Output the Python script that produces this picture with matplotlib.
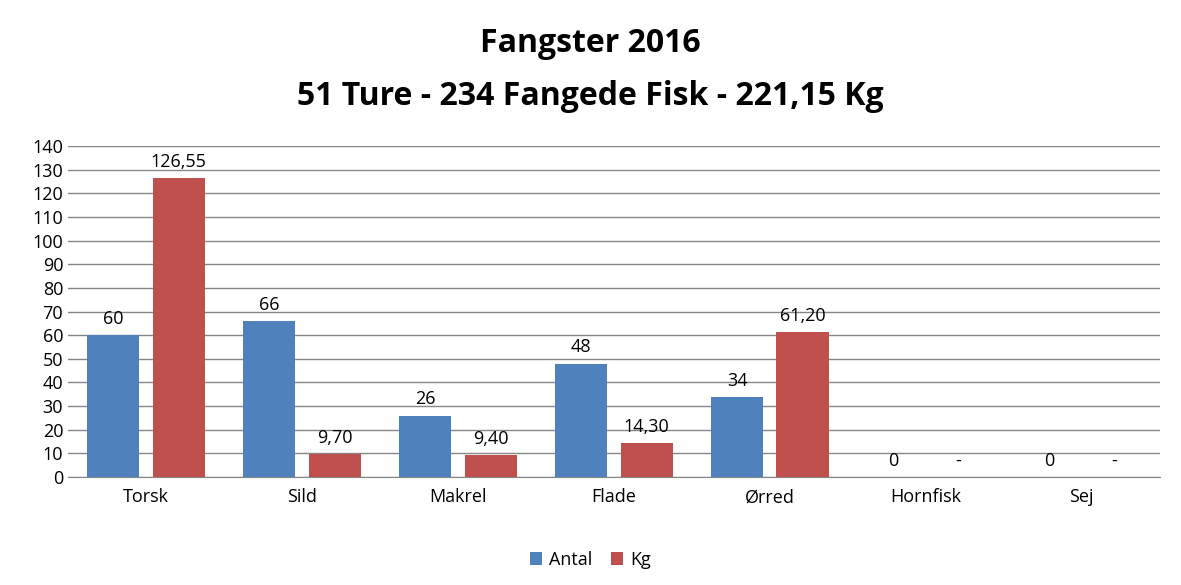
import matplotlib
matplotlib.use("Agg")
import matplotlib.pyplot as plt
import numpy as np

categories = ["Torsk", "Sild", "Makrel", "Flade", "Ørred", "Hornfisk", "Sej"]
antal = [60, 66, 26, 48, 34, 0, 0]
kg = [126.55, 9.70, 9.40, 14.30, 61.20, 0, 0]
yticks = list(range(0, 141, 10))

plt.rcParams['font.family'] = ['Open Sans', 'DejaVu Sans']
fig = plt.figure(figsize=(11.81, 5.85), dpi=100)
ax = fig.add_axes([0.0576, 0.1846, 0.9244, 0.5658])
x = np.arange(len(categories))
w = 0.335
off = 0.21
blue, red = "#4F81BD", "#C0504D"
ax.bar(x - off, antal, w, color=blue, label="Antal", zorder=3)
ax.bar(x + off, kg, w, color=red, label="Kg", zorder=3)
for xi, v in zip(x, antal):
    ax.text(xi - off, v + 3, f"{v}", ha="center", va="bottom", fontsize=13)
for xi, v in zip(x, kg):
    s = f"{v:.2f}".replace(".", ",") if v else "-"
    ax.text(xi + off, v + 3, s, ha="center", va="bottom", fontsize=13)
ax.set_xlim(-0.5, len(categories) - 0.5)
ax.set_ylim(0, 140)
ax.set_yticks(yticks)
ax.set_xticks(x)
ax.set_xticklabels(categories, fontsize=13)
ax.tick_params(axis="y", labelsize=13, length=0)
ax.tick_params(axis="x", length=0, pad=8)
ax.grid(axis="y", color="#868686", linewidth=1, zorder=0)
for s in ["top", "right", "left"]:
    ax.spines[s].set_visible(False)
ax.spines["bottom"].set_color("#868686")
fig.text(0.5, 0.925, "Fangster 2016", ha="center", va="center", fontsize=23, fontweight="bold")
fig.text(0.5, 0.835, "51 Ture - 234 Fangede Fisk - 221,15 Kg", ha="center", va="center", fontsize=23, fontweight="bold")
fig.legend(loc="lower center", bbox_to_anchor=(0.5, 0.0), ncol=2, frameon=False, fontsize=13,
           handlelength=0.7, handleheight=0.7, columnspacing=1.0, handletextpad=0.4)
fig.savefig("out.png", dpi=100)
